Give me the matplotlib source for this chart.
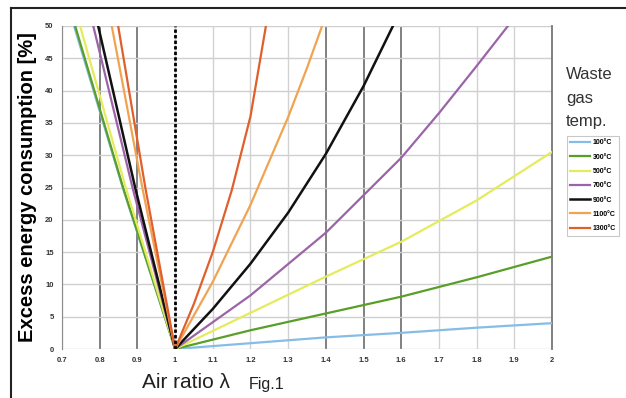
import matplotlib
matplotlib.use("Agg")
import matplotlib.pyplot as plt

plt.rcParams['font.family'] = ['Liberation Sans', 'DejaVu Sans']

# tick positions / labels
x_ticks = [0.7, 0.8, 0.9, 1.0, 1.1, 1.2, 1.3, 1.4, 1.5, 1.6, 1.7, 1.8, 1.9, 2.0]
x_labels = ['0.7', '0.8', '0.9', '1', '1.1', '1.2', '1.3', '1.4', '1.5', '1.6', '1.7', '1.8', '1.9', '2']
y_ticks = [0, 5, 10, 15, 20, 25, 30, 35, 40, 45, 50]
dark_grid_x = [0.8, 0.9, 1.4, 1.5, 1.6]

# curves (air ratio, excess energy %)
t100_x = [0.732, 0.861, 1.0, 1.2, 1.4, 1.6, 1.8, 2.0]
t100_y = [50, 25, 0, 0.9, 1.8, 2.5, 3.3, 4.0]
t300_x = [0.735, 0.862, 1.0, 1.2, 1.4, 1.6, 1.8, 2.0]
t300_y = [50, 25, 0, 2.9, 5.5, 8.1, 11.1, 14.3]
t500_x = [0.748, 0.869, 1.0, 1.2, 1.4, 1.6, 1.8, 2.0]
t500_y = [50, 25, 0, 5.6, 11.2, 16.6, 23.0, 30.5]
t700_x = [0.783, 0.887, 1.0, 1.2, 1.4, 1.6, 1.7, 1.8, 1.883]
t700_y = [50, 25, 0, 8.3, 18.0, 29.6, 36.5, 43.8, 50]
t900_x = [0.796, 0.894, 1.0, 1.1, 1.2, 1.3, 1.4, 1.5, 1.578]
t900_y = [50, 25, 0, 6.2, 13.2, 21.1, 30.2, 40.7, 50]
t1100_x = [0.832, 0.913, 1.0, 1.1, 1.2, 1.3, 1.35, 1.39]
t1100_y = [50, 25, 0, 10.4, 22.3, 35.9, 43.5, 50]
t1300_x = [0.849, 0.921, 1.0, 1.05, 1.1, 1.15, 1.2, 1.241]
t1300_y = [50, 25, 0, 7.0, 15.0, 24.5, 36.0, 50]

series = [
    ('100°C', t100_x, t100_y, '#86bde6'),
    ('300°C', t300_x, t300_y, '#5a9e2a'),
    ('500°C', t500_x, t500_y, '#e4ec5c'),
    ('700°C', t700_x, t700_y, '#9c64a8'),
    ('900°C', t900_x, t900_y, '#111111'),
    ('1100°C', t1100_x, t1100_y, '#f0a452'),
    ('1300°C', t1300_x, t1300_y, '#e0602c'),
]

fig = plt.figure(figsize=(6.26, 3.98), dpi=100)
ax = fig.add_axes([62/626, 1-349/398, 490/626, 323/398])

# grid
for x in x_ticks:
    if any(abs(x - d) < 1e-6 for d in dark_grid_x):
        ax.axvline(x, color='#767676', lw=1.3, zorder=1)
    else:
        ax.axvline(x, color='#d2d2d2', lw=1.0, zorder=1)
for y in y_ticks:
    ax.axhline(y, color='#cfcfcf', lw=1.0, zorder=1)

for name, xs, ys, c in series:
    lw = 1.8 if name == '900°C' else 1.6
    ax.plot(xs, ys, color=c, lw=lw, label=name, zorder=3)

ax.axvline(1.0, color='black', lw=2.0, ls=(0, (1.2, 0.8)), zorder=4)

ax.set_xlim(0.7, 2.0)
ax.set_ylim(0, 50)
ax.set_xticks(x_ticks)
ax.set_xticklabels(x_labels)
ax.set_yticks(y_ticks)
ax.tick_params(length=0, labelsize=5.5, pad=6)
for lab in ax.get_xticklabels() + ax.get_yticklabels():
    lab.set_fontweight('bold')
    lab.set_color('#333333')
for s in ['top', 'bottom']:
    ax.spines[s].set_visible(False)
ax.spines['left'].set_color('#8a8a8a')
ax.spines['right'].set_color('#767676')
ax.spines['right'].set_linewidth(1.3)

ax.set_ylabel('Excess energy consumption [%]', fontsize=14.5, fontweight='bold', labelpad=6)
fig.text(186/626, 1-383/398, 'Air ratio λ', fontsize=15, ha='center', va='center', color='#222222')
fig.text(267/626, 1-385/398, 'Fig.1', fontsize=11.5, ha='center', va='center', color='#222222')
fig.text(566/626, 1-98/398, 'Waste\ngas\ntemp.', fontsize=12, ha='left', va='center',
         color='#333333', linespacing=1.7)

leg = ax.legend(loc='upper left', bbox_to_anchor=(567/626, 1-136/398), bbox_transform=fig.transFigure,
                fontsize=5, frameon=True, fancybox=False, borderpad=0.5, labelspacing=1.05,
                handlelength=2.8, handletextpad=0.4, borderaxespad=0)
leg.get_frame().set_edgecolor('#bbbbbb')
leg.get_frame().set_linewidth(0.8)
for t in leg.get_texts():
    t.set_fontweight('bold')

# outer frame of the figure
fig.add_artist(plt.Line2D([11/626, 1.0], [1-8/398, 1-8/398], transform=fig.transFigure, color='#222222', lw=1.5))
fig.add_artist(plt.Line2D([11/626, 11/626], [0, 1-8/398], transform=fig.transFigure, color='#222222', lw=1.5))

fig.savefig('out.png', dpi=100)
